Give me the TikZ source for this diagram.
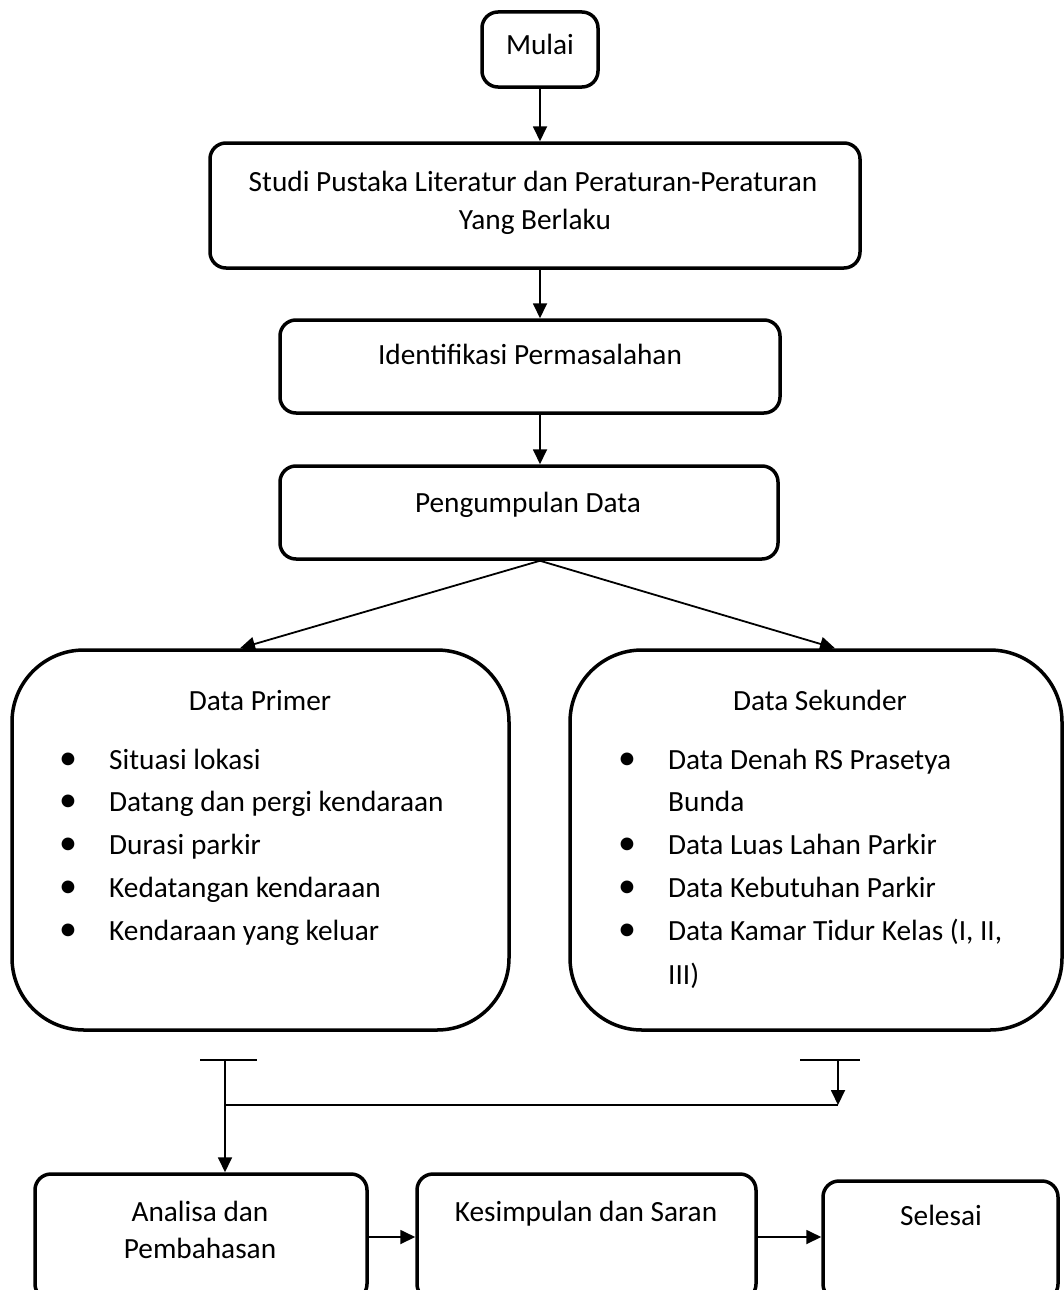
\documentclass[tikz,border=0pt]{standalone}
\usepackage{fontspec}
\setmainfont{Carlito}
\usetikzlibrary{arrows.meta}
\begin{document}
\begin{tikzpicture}[x=1pt,y=-1pt,
  box/.style={draw, line width=3.5pt, rounded corners=16pt, inner sep=0pt},
  bigbox/.style={box, rounded corners=72pt},
  arr/.style={line width=1.8pt, -{Triangle[length=15pt,width=14pt]}},
  conn/.style={line width=1.8pt},
  txt/.style={inner sep=0pt, anchor=base, font=\fontsize{29.3}{37}\selectfont},
  item/.style={inner sep=0pt, anchor=base west, font=\fontsize{29.3}{37}\selectfont},
  bul/.style={inner sep=0pt, anchor=base, font=\fontsize{36}{37}\selectfont}]
\useasboundingbox (0,0) rectangle (1064,1290);
\clip (0,0) rectangle (1064,1290);

% boxes
\node[box, minimum width=116pt, minimum height=75pt] (mulai) at (540,49.5) {};
\node[box, minimum width=650pt, minimum height=125pt] (studi) at (535,205.5) {};
\node[box, minimum width=500pt, minimum height=93pt] (ident) at (530,366.5) {};
\node[box, minimum width=498pt, minimum height=93pt] (peng) at (529,512.5) {};
\node[bigbox, minimum width=497pt, minimum height=380pt] (primer) at (260.5,840) {};
\node[bigbox, minimum width=492pt, minimum height=380pt] (sekunder) at (816,840) {};
\node[box, minimum width=332pt, minimum height=126pt] (analisa) at (201,1237) {};
\node[box, minimum width=339pt, minimum height=126pt] (kesim) at (586.5,1237) {};
\node[box, minimum width=235pt, minimum height=119pt] (selesai) at (940.5,1240.5) {};

% texts
\node[txt] (tmulai) at (540,55) {Mulai};
\node[txt] (tstudi1) at (533,191) {Studi Pustaka Literatur dan Peraturan-Peraturan};
\node[txt] (tstudi2) at (535,229) {Yang Berlaku};
\node[txt] (tident) at (530,364) {Identifikasi Permasalahan};
\node[txt] (tpeng) at (528,512) {Pengumpulan Data};
\node[txt] (tprimer) at (260,710) {Data Primer};
\node[txt] (tsek) at (820,710) {Data Sekunder};
\node[txt] (tanal1) at (200,1221) {Analisa dan};
\node[txt] (tanal2) at (200,1258) {Pembahasan};
\node[txt] (tkesim) at (586,1221) {Kesimpulan dan Saran};
\node[txt] (tsel) at (941,1225) {Selesai};

% primer list
\node[bul] (pb1) at (68,769) {•};
\node[item] (pi1) at (109,769) {Situasi lokasi};
\node[bul] (pb2) at (68,811) {•};
\node[item] (pi2) at (109,811) {Datang dan pergi kendaraan};
\node[bul] (pb3) at (68,854) {•};
\node[item] (pi3) at (109,854) {Durasi parkir};
\node[bul] (pb4) at (68,897) {•};
\node[item] (pi4) at (109,897) {Kedatangan kendaraan};
\node[bul] (pb5) at (68,940) {•};
\node[item] (pi5) at (109,940) {Kendaraan yang keluar};

% sekunder list
\node[bul] (sb1) at (627,769) {•};
\node[item] (si1) at (668,769) {Data Denah RS Prasetya};
\node[item] (si1b) at (668,811) {Bunda};
\node[bul] (sb2) at (627,854) {•};
\node[item] (si2) at (668,854) {Data Luas Lahan Parkir};
\node[bul] (sb3) at (627,897) {•};
\node[item] (si3) at (668,897) {Data Kebutuhan Parkir};
\node[bul] (sb4) at (627,940) {•};
\node[item] (si4) at (668,940) {Data Kamar Tidur Kelas (I, II,};
\node[item] (si4b) at (668,984) {III)};

% helper coordinates
\coordinate (ax) at (540,0);
\coordinate (pl) at (240,0);
\coordinate (pr) at (835,0);
\coordinate (tl) at (225,1060);
\coordinate (tlL) at (200,1060);
\coordinate (tlR) at (257,1060);
\coordinate (tr) at (838,1060);
\coordinate (trL) at (800,1060);
\coordinate (trR) at (860,1060);
\coordinate (hl) at (225,1105);
\coordinate (hr) at (838,1105);

% connectors
\draw[arr] (mulai.south) -- (mulai.south |- studi.north);
\draw[arr] (studi.south -| ax) -- (ident.north -| ax);
\draw[arr] (ident.south -| ax) -- (peng.north -| ax);
\draw[arr] (peng.south -| ax) -- (primer.north -| pl);
\draw[arr] (peng.south -| ax) -- (sekunder.north -| pr);
\draw[conn] (tlL) -- (tlR);
\draw[conn] (trL) -- (trR);
\draw[arr] (tl) -- (analisa.north -| tl);
\draw[conn] (hl) -- (hr);
\draw[arr] (tr) -- (hr);
\draw[arr] (analisa.east) -- (kesim.west);
\draw[arr] (kesim.east) -- (selesai.west |- kesim.east);
\end{tikzpicture}
\end{document}
